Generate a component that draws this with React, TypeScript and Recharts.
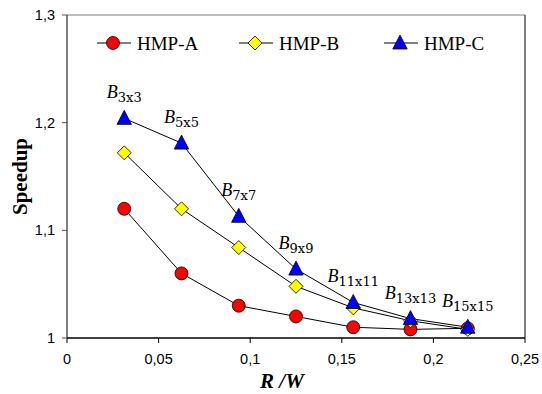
import React from 'react';
import { LineChart, Line, XAxis, YAxis, ReferenceLine, Legend, LabelList } from 'recharts';

const xValues = [0.03125, 0.0625, 0.09375, 0.125, 0.15625, 0.1875, 0.21875];
const hmpA = [1.12, 1.06, 1.03, 1.02, 1.01, 1.008, 1.009];
const hmpB = [1.172, 1.12, 1.084, 1.048, 1.028, 1.016, 1.008];
const hmpC = [1.204, 1.181, 1.113, 1.064, 1.033, 1.018, 1.01];
const blockLabels = ['3x3', '5x5', '7x7', '9x9', '11x11', '13x13', '15x15'];
const seriesNames = ['HMP-A', 'HMP-B', 'HMP-C'];
const xTicks = [0, 0.05, 0.1, 0.15, 0.2, 0.25];
const yTicks = [1, 1.1, 1.2, 1.3];

const data = xValues.map((x, i) => ({
  x,
  a: hmpA[i],
  b: hmpB[i],
  c: hmpC[i],
  label: blockLabels[i],
}));

const seriesColors = ['#FF0000', '#FFFF00', '#0000FF'];
const kinds = ['circle', 'diamond', 'triangle'];
const SERIF = "'Liberation Serif', 'Times New Roman', serif";

function Marker({ kind, cx, cy, fill }: { kind: string; cx: number; cy: number; fill: string }) {
  if (kind === 'circle') {
    return <circle cx={cx} cy={cy} r={6.5} fill={fill} stroke="#000" strokeWidth={0.8} />;
  }
  if (kind === 'diamond') {
    return (
      <polygon
        points={`${cx},${cy - 7} ${cx + 7},${cy} ${cx},${cy + 7} ${cx - 7},${cy}`}
        fill={fill}
        stroke="#000"
        strokeWidth={0.8}
      />
    );
  }
  return (
    <polygon
      points={`${cx},${cy - 8} ${cx + 7.2},${cy + 6} ${cx - 7.2},${cy + 6}`}
      fill={fill}
      stroke="#000"
      strokeWidth={0.8}
    />
  );
}

const makeDot = (kind: string, fill: string) => (props: any) => {
  const { cx, cy, index } = props;
  if (cx == null || cy == null) return <g key={index} />;
  return <Marker key={index} kind={kind} cx={cx} cy={cy} fill={fill} />;
};

const fmt = (v: number) => String(v).replace('.', ',');

function BlockLabel(props: any) {
  const { x, y, value } = props;
  if (x == null || y == null) return null;
  return (
    <text x={x} y={y - 20} textAnchor="middle" fill="#000" style={{ fontFamily: SERIF }}>
      <tspan style={{ fontFamily: SERIF, fontStyle: 'italic', fontSize: 18 }}>B</tspan>
      <tspan style={{ fontFamily: "'DejaVu Serif', serif", fontSize: 13 }} dy={4}>{value}</tspan>
    </text>
  );
}

function LegendContent(props: any) {
  const payload = props.payload || [];
  const offsets = [0, 142, 287];
  return (
    <svg width={420} height={26} style={{ display: 'block' }}>
      {payload.map((p: any, i: number) => {
        const o = offsets[i] ?? i * 143;
        return (
          <g key={i}>
            <line x1={o + 7} x2={o + 41} y1={12} y2={12} stroke="#000" strokeWidth={1} />
            <Marker kind={kinds[i]} cx={o + 23} cy={12} fill={seriesColors[i]} />
            <text x={o + 47} y={18.5} fill="#000" style={{ fontFamily: SERIF, fontSize: 19 }}>
              {p.value}
            </text>
          </g>
        );
      })}
    </svg>
  );
}

function YTitle(props: any) {
  const vb = props.viewBox || {};
  const cy = vb.y + vb.height / 2;
  const x = 27;
  return (
    <text
      x={x}
      y={cy}
      transform={`rotate(-90, ${x}, ${cy})`}
      textAnchor="middle"
      fill="#000"
      style={{ fontFamily: SERIF, fontWeight: 'bold', fontSize: 21 }}
    >
      Speedup
    </text>
  );
}

function XTitle(props: any) {
  const vb = props.viewBox || {};
  const cx = vb.x + vb.width / 2 - 14;
  return (
    <text
      x={cx}
      y={vb.y + vb.height - 6}
      textAnchor="middle"
      fill="#000"
      style={{ fontFamily: SERIF, fontWeight: 'bold', fontStyle: 'italic', fontSize: 21 }}
    >
      R /W
    </text>
  );
}

const tickStyle = { fontFamily: "'Liberation Sans', Arial, sans-serif", fontSize: 14.5, fill: '#000' };

export default function App() {
  return (
    <div style={{ position: 'absolute', left: 0, top: 0, width: 542, height: 394, background: '#fff' }}>
      <LineChart width={542} height={394} data={data} margin={{ top: 15, right: 17, left: 0, bottom: 0 }}>
        <XAxis
          dataKey="x"
          type="number"
          domain={[0, 0.25]}
          ticks={xTicks}
          tickFormatter={fmt}
          height={56}
          tick={tickStyle}
          tickSize={5}
          tickMargin={11}
          axisLine={{ stroke: '#000', strokeWidth: 1.6 }}
          tickLine={{ stroke: '#000' }}
          interval={0}
          label={<XTitle />}
        />
        <YAxis
          type="number"
          domain={[1, 1.3]}
          ticks={yTicks}
          tickFormatter={fmt}
          width={67}
          tick={tickStyle}
          tickSize={5}
          tickMargin={7}
          axisLine={{ stroke: '#000', strokeWidth: 1 }}
          tickLine={{ stroke: '#555' }}
          interval={0}
          label={<YTitle />}
        />
        <ReferenceLine y={1.3} stroke="#808080" strokeWidth={1.2} />
        <ReferenceLine x={0.25} stroke="#000" strokeWidth={1} />
        <Legend
          layout="horizontal"
          verticalAlign="middle"
          align="center"
          wrapperStyle={{ top: 31, left: 90, width: 420 }}
          content={<LegendContent />}
        />
        <Line
          type="linear"
          dataKey="a"
          name={seriesNames[0]}
          stroke="#000"
          strokeWidth={1}
          dot={makeDot('circle', seriesColors[0])}
          activeDot={false}
          isAnimationActive={false}
        />
        <Line
          type="linear"
          dataKey="b"
          name={seriesNames[1]}
          stroke="#000"
          strokeWidth={1}
          dot={makeDot('diamond', seriesColors[1])}
          activeDot={false}
          isAnimationActive={false}
        />
        <Line
          type="linear"
          dataKey="c"
          name={seriesNames[2]}
          stroke="#000"
          strokeWidth={1}
          dot={makeDot('triangle', seriesColors[2])}
          activeDot={false}
          isAnimationActive={false}
        >
          <LabelList dataKey="label" content={<BlockLabel />} />
        </Line>
      </LineChart>
    </div>
  );
}
